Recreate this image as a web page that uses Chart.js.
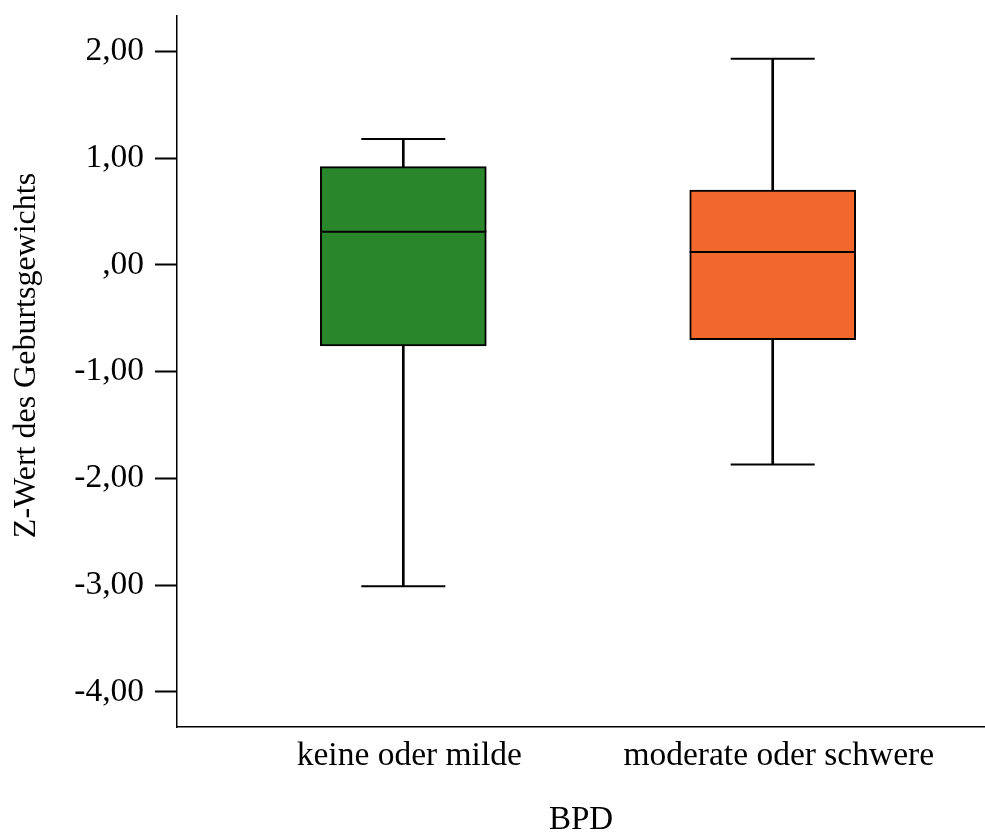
<!DOCTYPE html>
<html>
<head>
<meta charset="utf-8">
<script src="https://cdn.jsdelivr.net/npm/chart.js@4.4.1/dist/chart.umd.min.js"></script>
<style>
  html, body { margin: 0; padding: 0; background: #fff; }
</style>
</head>
<body>
<canvas id="boxChart" width="985" height="832"></canvas>
<script>
// Box plot values (z-scores)
const categories = ['keine oder milde', 'moderate oder schwere'];
const whiskerLow = [-3.01, -1.87];
const q1 = [-0.76, -0.70];
const median = [0.31, 0.12];
const q3 = [0.92, 0.70];
const whiskerHigh = [1.18, 1.93];
const yTicks = [-4, -3, -2, -1, 0, 1, 2];

const boxColors = ['rgb(41, 134, 43)', 'rgb(242, 104, 44)'];
const serif = 'Liberation Serif';

// SPSS style: ",00" for zero, comma decimal
function fmt(v) {
    let s = Math.abs(v).toFixed(2).replace('.', ',');
    if (s.startsWith('0,')) s = s.slice(1);
    return (v < 0 ? '-' : '') + s;
}

const ctx = document.getElementById('boxChart').getContext('2d');

const chart = new Chart(ctx, {
    type: 'bar',
    data: {
        datasets: [
            {
                // whisker stems
                type: 'bar',
                data: categories.map((c, i) => ({ x: i, y: [whiskerLow[i], whiskerHigh[i]] })),
                backgroundColor: '#000',
                borderWidth: 0,
                barThickness: 2,
                grouped: false,
                order: 3,
            },
            {
                // boxes q1..q3
                type: 'bar',
                data: categories.map((c, i) => ({ x: i, y: [q1[i], q3[i]] })),
                backgroundColor: boxColors,
                borderColor: '#000',
                borderWidth: 2,
                borderSkipped: false,
                barThickness: 166,
                grouped: false,
                order: 2,
            },
            {
                // medians
                type: 'line',
                data: categories.map((c, i) => ({ x: i, y: median[i] })),
                showLine: false,
                pointStyle: 'line',
                pointRadius: 83,
                pointBorderColor: '#000',
                pointBorderWidth: 2,
                order: 1,
            },
            {
                // whisker caps
                type: 'line',
                data: categories.flatMap((c, i) => [{ x: i, y: whiskerLow[i] }, { x: i, y: whiskerHigh[i] }]),
                showLine: false,
                pointStyle: 'line',
                pointRadius: 42,
                pointBorderColor: '#000',
                pointBorderWidth: 2,
                order: 1,
            },
        ]
    },
    options: {
        responsive: false,
        animation: false,
        events: [],
        layout: {
            autoPadding: false,
            padding: { top: 16, right: 0, left: 0, bottom: 0 }
        },
        scales: {
            x: {
                type: 'linear',
                offset: false,
                min: -0.6126,
                max: 1.5747,
                afterBuildTicks: (scale) => {
                    scale.ticks = categories.map((c, i) => ({ value: i }));
                },
                afterFit: (scale) => {
                    scale.height = 105;
                    scale.paddingLeft = 0;
                    scale.paddingRight = 0;
                },
                ticks: {
                    callback: (v) => categories[v],
                    color: '#000',
                    font: { family: serif, size: 33.5 },
                    padding: 9,
                    labelOffset: 6,
                    maxRotation: 0,
                },
                grid: { display: false, drawTicks: false },
                border: { color: '#000', width: 1.5 },
                title: {
                    display: true,
                    text: 'BPD',
                    color: '#000',
                    font: { family: serif, size: 33, lineHeight: 0.7 },
                    padding: 0,
                },
            },
            y: {
                min: -4.328,
                max: 2.331,
                afterBuildTicks: (scale) => {
                    scale.ticks = yTicks.map(v => ({ value: v }));
                },
                afterFit: (scale) => {
                    scale.width = 177;
                    scale.paddingTop = 0;
                    scale.paddingBottom = 0;
                },
                ticks: {
                    callback: (v) => fmt(v),
                    color: '#000',
                    font: { family: serif, size: 33.5 },
                    padding: 11,
                },
                grid: {
                    drawOnChartArea: false,
                    tickLength: 22,
                    tickWidth: 2,
                    tickColor: '#000',
                },
                border: { color: '#000', width: 1.5 },
                title: {
                    display: true,
                    text: '    Z-Wert des Geburtsgewichts',
                    color: '#000',
                    font: { family: serif, size: 32 },
                    padding: { top: 7, bottom: 0 },
                },
            },
        },
        plugins: {
            legend: { display: false },
            tooltip: { enabled: false },
        },
    }
});
</script>
</body>
</html>
